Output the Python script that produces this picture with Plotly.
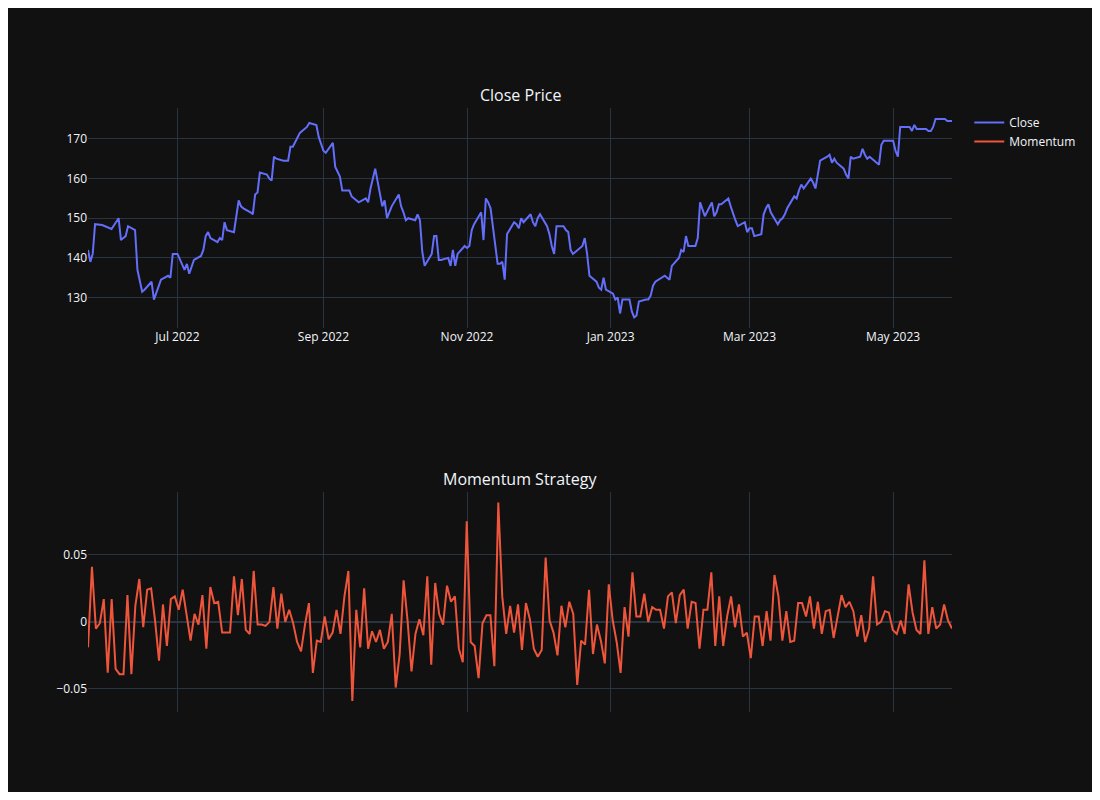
import pandas as pd
import plotly.graph_objects as go
from plotly.subplots import make_subplots

start_date = "2022-05-24"
close = [142,139,141,148.5,148.3,148,147.8,147.5,147.3,150,144.5,
145,145.5,148,147,137,134,131.5,132,134,129.5,
131,133,134.5,135.5,135,141,141,141,137,138.5,136,
138,139.5,140.5,142,145.5,146.5,145,144,145,144.5,
149,147,146.5,151,154.5,153,152.5,151.5,151,156,
156.5,161.5,161,160,159.5,165.5,165,164.5,164.5,164.5,
168,168,171.5,172,172.5,173,174,173.5,170.5,168.5,
167,166.5,169,163,161.5,160.5,157,157,155.5,155,
154.5,154,155,154,157.5,160,162.5,153,154.5,150,
151.5,153,156,153,151.5,149.5,150,149.5,151,149.5,
141.5,138,141,145.5,145.5,139.5,139.5,140,138,142,
138,141,143,142.5,143,147,148.5,151.5,144.5,155,154,152.5,
138.5,138.5,139,134.5,146,149,148.5,147.5,150,149,
151,149,148,150,151,148,146,143,141,148,
148,147,146.5,142,141,142.5,143,145,141,135.5,
134,132.5,132,135,132,131,129.5,130,126,129.5,
129.5,126.5,125,125.5,129,129.5,129.5,130.5,133,134,
135,135.5,135,134.5,138,140,142,141.5,145.5,143,
143,145,154,152,150.5,154,150.5,151.5,153.5,153.5,
155,153,151,149.5,148,149,146.5,147.5,147.5,145.5,
146,151,152.5,153.5,151.5,148.5,149.5,150,151,152.5,
155.5,155,157,158.5,157.5,160,159,157.5,161,164.5,
165.5,166,164,165,164,162.5,161,160,165.5,165,
165.5,167.5,166,165,165.5,164,163.5,168.5,169.5,169.5,
169.5,167,165.5,173,173,173,172,173.5,172.5,172.5,
172.5,172,172,173,175,175,175,174.5,174.5,174.5]

momentum = [-0.019,0.041,-0.005,-0.001,0.017,-0.038,0.017,-0.035,-0.039,-0.039,0.020,-0.039,0.012,0.032,-0.004,0.024,0.025,0.001,-0.029,0.013,
-0.018,0.017,0.019,0.009,0.024,0.005,-0.014,0.006,-0.002,0.020,-0.020,0.026,0.014,0.015,-0.008,-0.008,-0.008,0.034,0.005,0.032,
-0.006,-0.009,0.038,-0.002,-0.002,-0.003,0,0.026,-0.005,0.021,0,0.009,-0.001,-0.015,-0.022,-0.002,0.014,-0.038,-0.014,-0.015,
0.004,-0.013,-0.008,0.009,-0.009,0.019,0.038,-0.059,0.009,-0.019,0.025,-0.020,-0.007,-0.015,-0.006,
-0.020,-0.015,0.006,-0.049,-0.024,0.031,0.001,-0.037,-0.009,0.002,-0.010,0.034,-0.032,0.029,0.006,-0.002,0.027,0.015,0.019,-0.020,
-0.030,0.075,-0.015,-0.018,-0.042,-0.001,0.005,0.005,-0.033,0.089,0.019,-0.009,0.012,-0.008,0.013,-0.021,0.014,0.002,-0.020,-0.026,
-0.021,0.048,0.001,-0.008,-0.025,0.012,-0.004,0.015,0.006,-0.047,-0.014,-0.017,0.024,-0.024,-0.002,-0.014,-0.031,0.028,0.001,-0.015,
-0.038,0.011,-0.011,0.037,0.004,0.004,0.021,0,0.011,0.009,0.009,-0.005,0.019,0.022,
-0.001,0.020,0.024,-0.005,0.015,0.014,-0.020,0.009,0.009,0.037,-0.018,0.019,-0.018,0.004,0.019,-0.004,0.013,-0.011,-0.008,-0.027,
0.004,0.004,-0.018,0.008,-0.014,0.035,0.019,-0.014,0.008,-0.015,-0.014,0.014,0.014,0.004,0.019,-0.005,0.015,-0.009,0.008,0.009,
-0.012,0.004,0.020,0.011,0.015,0.008,-0.011,0.005,-0.015,-0.005,0.034,-0.002,0,0.008,0.007,-0.006,-0.009,0.001,-0.009,0.028,
0.007,-0.006,-0.009,0.046,-0.009,0.011,-0.005,-0.002,0.013,0.001,-0.005]

dates = pd.bdate_range(start_date, periods=len(close))
mom_dates = pd.date_range(dates[0], dates[-1], periods=len(momentum))

fig = make_subplots(rows=2, cols=1, subplot_titles=("Close Price", "Momentum Strategy"),
                    vertical_spacing=0.27)
fig.add_trace(go.Scatter(x=dates, y=close, mode="lines", name="Close"), row=1, col=1)
fig.add_trace(go.Scatter(x=mom_dates, y=momentum, mode="lines", name="Momentum"), row=2, col=1)
fig.update_layout(template="plotly_dark")
fig.update_xaxes(showticklabels=False, row=2, col=1)
fig.update_yaxes(dtick=0.05, row=2, col=1)
fig.write_html("out.html")
